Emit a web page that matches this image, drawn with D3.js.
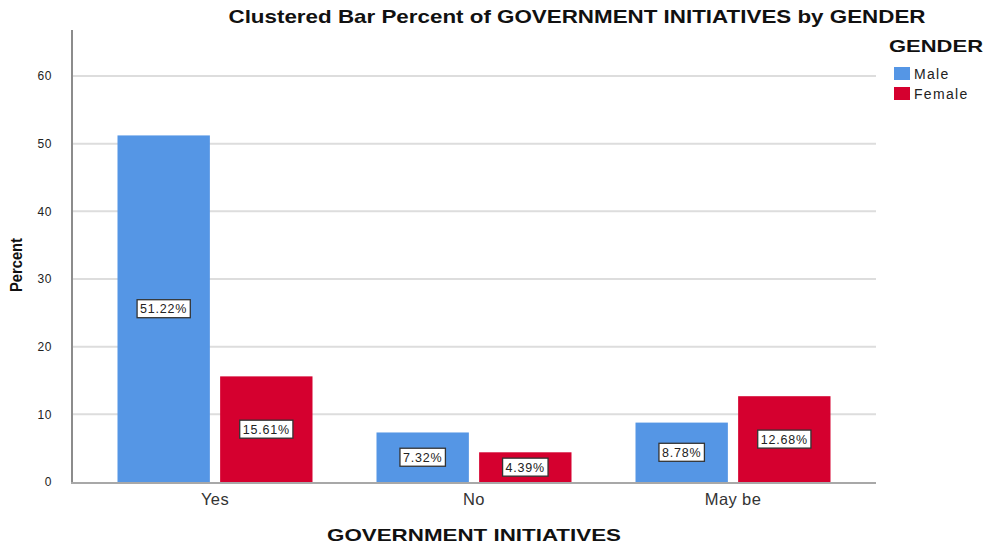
<!DOCTYPE html>
<html><head><meta charset="utf-8">
<script src="https://cdn.jsdelivr.net/npm/d3@7"></script>
<style>body{margin:0;background:#fff}svg{display:block}text{font-family:"Liberation Sans",Arial,sans-serif}</style>
</head><body><svg id="c" width="984" height="546"></svg>
<script>
const categories = ["Yes", "No", "May be"];
const genders = ["Male", "Female"];
const maleValues = [51.22, 7.32, 8.78];
const femaleValues = [15.61, 4.39, 12.68];
const yTicks = [0, 10, 20, 30, 40, 50, 60];
const colors = ["#5596e5", "#d5002f"];

(function () {
const svg = d3.select("#c");
const pLeft = 72, pRight = 876, pTop = 30, pBottom = 482;

const y = d3.scaleLinear().domain([0, 66.8]).range([pBottom, pTop]);
const x0 = d3.scaleBand().domain(categories).range([85.5, 862.5]).padding(0);
const x1 = d3.scaleBand().domain(genders).range([32, 227]).paddingInner(0.1).paddingOuter(0);
const color = d3.scaleOrdinal().domain(genders).range(colors);

const data = categories.map((c, i) => ({cat: c, vals: [maleValues[i], femaleValues[i]]}));

// gridlines
svg.append("g").selectAll("line").data(yTicks.filter(d => d > 0)).join("line")
  .attr("x1", pLeft).attr("x2", pRight)
  .attr("y1", d => y(d)).attr("y2", d => y(d))
  .attr("stroke", "#dddddd").attr("stroke-width", 2);

// bars
const groups = svg.append("g").selectAll("g").data(data).join("g")
  .attr("transform", d => `translate(${x0(d.cat)},0)`);
groups.selectAll("rect").data(d => d.vals.map((v, j) => ({g: genders[j], v}))).join("rect")
  .attr("x", d => x1(d.g)).attr("width", x1.bandwidth())
  .attr("y", d => y(d.v)).attr("height", d => pBottom - y(d.v))
  .attr("fill", d => color(d.g));

// labels
groups.each(function(d) {
  const g = d3.select(this);
  d.vals.forEach((v, j) => {
    const cx = x1(genders[j]) + x1.bandwidth() / 2;
    const cy = y(v / 2);
    const t = v.toFixed(2) + "%";
    const lg = g.append("g");
    const txt = lg.append("text").attr("x", cx).attr("y", cy + 4.5)
      .attr("text-anchor", "middle").attr("font-size", 12.5).attr("fill", "#222")
      .attr("letter-spacing", 0.8).text(t);
    const bb = txt.node().getBBox();
    lg.insert("rect", "text").attr("x", cx - bb.width / 2 - 3).attr("y", cy - 9)
      .attr("width", bb.width + 6).attr("height", 18)
      .attr("fill", "#fff").attr("stroke", "#333").attr("stroke-width", 1.3);
  });
});

// axes
const yAxis = svg.append("g").attr("transform", `translate(${pLeft},0)`)
  .call(d3.axisLeft(y).tickValues(yTicks).tickSize(0).tickPadding(20));
yAxis.select(".domain").remove();
yAxis.selectAll("text").attr("font-size", 12).attr("fill", "#222").attr("font-family", "Liberation Sans, Arial").attr("letter-spacing", 0.6);
svg.append("line").attr("x1", pLeft).attr("x2", pLeft).attr("y1", pTop).attr("y2", pBottom + 1)
  .attr("stroke", "#8c8c8c").attr("stroke-width", 2);
const xAxis = svg.append("g").attr("transform", `translate(0,${pBottom})`)
  .call(d3.axisBottom(x0).tickSize(0).tickPadding(11));
xAxis.select(".domain").remove();
xAxis.selectAll("text").attr("font-size", 16.5).attr("fill", "#333").attr("font-family", "Liberation Sans, Arial").attr("letter-spacing", 0.4);
svg.append("line").attr("x1", pLeft - 1).attr("x2", pRight).attr("y1", pBottom + 1).attr("y2", pBottom + 1)
  .attr("stroke", "#a8a8a8").attr("stroke-width", 2);

// title
svg.append("text").attr("x", 577).attr("y", 23).attr("text-anchor", "middle")
  .attr("font-size", 19).attr("font-weight", "bold").attr("fill", "#111")
  .attr("textLength", 697).attr("lengthAdjust", "spacingAndGlyphs")
  .text("Clustered Bar Percent of GOVERNMENT INITIATIVES by GENDER");

// axis titles
svg.append("text").attr("transform", "translate(22,265) rotate(-90)").attr("text-anchor", "middle")
  .attr("font-size", 17).attr("font-weight", "bold").attr("fill", "#111")
  .attr("textLength", 54).attr("lengthAdjust", "spacingAndGlyphs").text("Percent");
svg.append("text").attr("x", 474).attr("y", 541).attr("text-anchor", "middle")
  .attr("font-size", 17).attr("font-weight", "bold").attr("fill", "#111")
  .attr("textLength", 294).attr("lengthAdjust", "spacingAndGlyphs").text("GOVERNMENT INITIATIVES");

// legend
svg.append("text").attr("x", 889).attr("y", 52).attr("font-size", 16.5).attr("font-weight", "bold")
  .attr("fill", "#111").attr("textLength", 94).attr("lengthAdjust", "spacingAndGlyphs").text("GENDER");
const leg = svg.append("g").selectAll("g").data(genders).join("g")
  .attr("transform", (d, i) => `translate(894,${67 + i * 20})`);
leg.append("rect").attr("width", 16).attr("height", 13).attr("fill", d => color(d));
leg.append("text").attr("x", 20).attr("y", 12).attr("font-size", 14).attr("fill", "#222")
  .attr("letter-spacing", 1.3).text(d => d);
})();
</script></body></html>
